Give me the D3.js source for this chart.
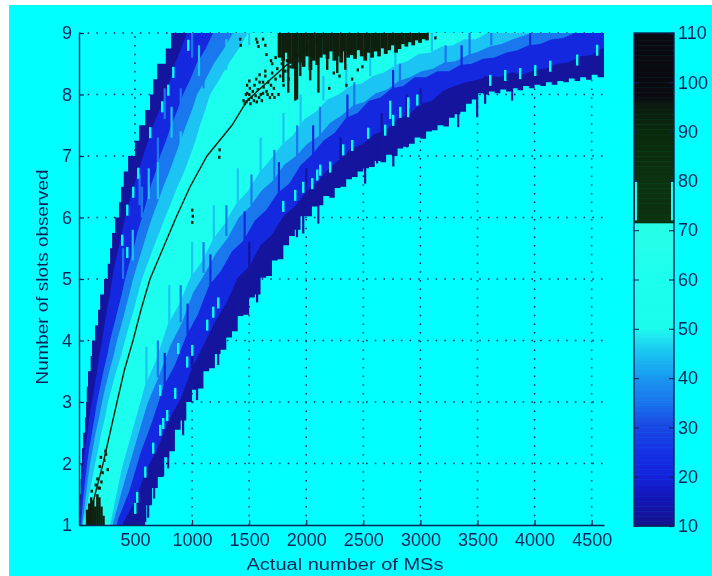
<!DOCTYPE html>
<html><head><meta charset="utf-8">
<script src="https://cdn.jsdelivr.net/npm/d3@7"></script>
<style>html,body{margin:0;padding:0;background:#fff;overflow:hidden}svg{display:block}text{font-family:"Liberation Sans",Arial,sans-serif}</style>
</head><body><svg id="c" width="712" height="576"></svg>
<script>
// ---- values (x = MSs, y = slots) ----
const xTicks=[500,1000,1500,2000,2500,3000,3500,4000,4500];
const yTicks=[1,2,3,4,5,6,7,8,9];
const cbTicks=[10,20,30,40,50,60,70,80,90,100,110];
const xTitle="Actual number of MSs", yTitle="Number of slots observed";

const levelsFine=[1,1.25,1.5,1.75,2,2.25,2.5,2.75,3,3.25,3.5,3.75,4,4.25,4.5,4.75,5,5.25,5.5,5.75,6,6.25,6.5,6.75,7,7.25,7.5,7.75,8,8.25,8.5,8.75,9];
const leftNavy=[10,14,19,24,28,36,46,62,72,78,89,112,124,150,177,195,229,262,282,300,326,360,378,402,440,500,536,590,632,660,694,770,816];
const leftBlue=[19,24,30,38,46,62,84,100,124,144,168,186,212,232,255,280,300,325,356,384,413,450,488,530,571,615,660,715,764,810,850,905,956];
const leftAzure=[28,38,50,66,81,100,124,146,168,196,224,256,282,316,350,384,413,450,490,520,562,600,636,682,720,772,818,872,921,985,1040,1120,1184];
const leftLight=[37,55,72,88,107,132,156,186,212,242,276,312,343,380,416,450,483,524,566,606,650,700,748,802,851,900,948,1000,1044,1120,1190,1280,1359];
const leftAqua=[46,72,98,126,151,180,206,238,264,300,336,378,413,450,490,524,562,610,660,712,764,820,872,932,983,1030,1070,1116,1158,1240,1320,1410,1490];

const rightNavy=[[589,1],[600,1.05],[650,1.32],[700,1.6],[750,1.78],[800,2.1],[850,2.2],[900,2.55],[950,2.7],[1000,3.0],[1050,3.2],[1100,3.22],[1150,3.5],[1200,3.55],[1250,3.78],[1300,3.85],[1350,4.05],[1400,4.15],[1450,4.4],[1500,4.42],[1550,4.7],[1600,4.75],[1650,5.02],[1700,5.05],[1750,5.3],[1800,5.32],[1850,5.55],[1900,5.7],[1950,5.8],[2000,6.02],[2050,6.02],[2100,6.18],[2150,6.2],[2200,6.35],[2250,6.32],[2300,6.48],[2350,6.5],[2400,6.62],[2450,6.66],[2500,6.75],[2550,6.8],[2600,6.82],[2650,6.92],[2700,6.9],[2750,7.02],[2800,7.0],[2850,7.12],[2900,7.15],[2950,7.2],[3000,7.3],[3050,7.28],[3100,7.4],[3150,7.42],[3200,7.5],[3250,7.48],[3300,7.62],[3350,7.68],[3400,7.72],[3450,7.85],[3500,7.92],[3550,8.02],[3600,8.0],[3650,8.05],[3700,8.02],[3750,8.08],[3800,8.05],[3850,8.1],[3900,8.07],[3950,8.14],[4000,8.1],[4050,8.16],[4100,8.14],[4150,8.2],[4200,8.16],[4250,8.22],[4300,8.2],[4350,8.26],[4400,8.22],[4450,8.28],[4500,8.24],[4550,8.32],[4608,8.28]];
const rightBlue=[[396,1],[400,1.05],[500,1.38],[600,1.9],[700,2.25],[800,2.72],[900,3.05],[1000,3.55],[1100,3.92],[1200,4.3],[1300,4.6],[1400,5.02],[1500,5.2],[1600,5.55],[1700,5.72],[1800,6.02],[1900,6.18],[2000,6.42],[2100,6.58],[2200,6.8],[2300,6.95],[2400,7.12],[2500,7.2],[2600,7.36],[2700,7.42],[2800,7.6],[2900,7.68],[3000,7.84],[3100,7.9],[3200,8.06],[3300,8.14],[3400,8.2],[3500,8.24],[3600,8.3],[3700,8.28],[3800,8.36],[3900,8.32],[4000,8.4],[4100,8.42],[4200,8.5],[4300,8.52],[4400,8.62],[4500,8.64],[4600,8.76],[4700,8.8]];
const rightAzure=[[343,1],[350,1.08],[450,1.55],[550,2.18],[650,2.68],[750,3.25],[850,3.6],[950,4.08],[1050,4.42],[1150,4.9],[1250,5.12],[1350,5.45],[1450,5.62],[1550,5.95],[1650,6.12],[1750,6.4],[1850,6.55],[1950,6.85],[2050,7.02],[2150,7.25],[2250,7.38],[2350,7.62],[2450,7.7],[2550,7.9],[2650,7.95],[2750,8.1],[2850,8.14],[2950,8.28],[3050,8.28],[3150,8.38],[3250,8.38],[3350,8.48],[3450,8.5],[3550,8.58],[3650,8.6],[3750,8.68],[3850,8.72],[3950,8.8],[4050,8.82],[4150,8.9],[4250,8.92],[4350,9],[4450,9.02],[4800,9.2]];
const rightLight=[[308,1],[310,1.04],[410,1.72],[510,2.35],[610,2.98],[710,3.42],[810,3.92],[910,4.28],[1010,4.78],[1110,5.08],[1210,5.42],[1310,5.66],[1410,6.0],[1510,6.18],[1610,6.44],[1710,6.6],[1810,6.86],[1910,7.0],[2010,7.2],[2110,7.32],[2210,7.54],[2310,7.66],[2410,7.82],[2510,7.88],[2610,8.02],[2710,8.08],[2810,8.22],[2910,8.28],[3010,8.38],[3110,8.42],[3210,8.52],[3310,8.54],[3410,8.64],[3510,8.7],[3610,8.78],[3710,8.82],[3810,8.9],[3910,8.96],[4010,9.02],[4300,9.2]];
const rightAqua=[[282,1],[285,1.02],[385,1.92],[485,2.58],[585,3.25],[685,3.68],[785,4.25],[885,4.58],[985,5.02],[1085,5.28],[1185,5.65],[1285,5.9],[1385,6.22],[1485,6.42],[1585,6.72],[1685,6.94],[1785,7.18],[1885,7.34],[1985,7.6],[2085,7.72],[2185,7.92],[2285,8.0],[2385,8.14],[2485,8.18],[2585,8.3],[2685,8.36],[2785,8.48],[2885,8.54],[2985,8.66],[3085,8.68],[3185,8.78],[3285,8.8],[3385,8.9],[3485,8.9],[3585,9.0],[3900,9.2]];

const ridge=[[90,1],[151,1.5],[221,2],[282,2.5],[343,3],[405,3.5],[483,4],[553,4.5],[632,5],[746,5.5],[860,6],[983,6.5],[1131,7],[1350,7.5],[1482,7.9],[1600,8.1],[1750,8.35],[1900,8.6],[2182,9]];

// thin vertical streaks: x, from, to, index into bandColors
const streaks=[[600,3.2,3.9,3],[800,4.2,4.9,3],[1000,5.0,5.6,3],[1190,5.6,6.2,3],[1400,6.2,6.8,3],[1600,6.7,7.3,3],[1800,7.2,7.7,3],[1950,7.5,8.0,3],[2150,7.9,8.3,3],[2350,8.1,8.5,3],[2560,8.3,8.7,3],[2780,8.45,8.85,3],[3100,8.7,9,3],
[700,3.4,4.0,2],[900,4.3,4.9,2],[1100,5.1,5.6,2],[1300,5.7,6.2,2],[1520,6.2,6.7,2],[1720,6.6,7.1,2],[1920,7.0,7.5,2],[2120,7.3,7.8,2],[2420,7.8,8.2,2],[2820,8.2,8.5,2],[3220,8.5,8.8,2],[3620,8.8,9,2],[3430,8.6,9,2],
[760,3.25,3.8,1],[960,4.1,4.6,1],[1160,4.9,5.4,1],[1460,5.6,6.1,1],[1760,6.4,6.9,1],[2060,7.0,7.5,1],[2360,7.6,8.0,1],[2760,8.1,8.4,1],[3360,8.45,8.8,1],[3960,8.8,9,1],
[1000,3.55,3.95,0],[1500,5.2,5.6,0],[2000,6.4,6.8,0],[2300,6.95,7.3,0],[2660,7.4,7.7,0],[2880,7.65,8.0,0],[3000,7.85,8.1,0],
[2892,7.63,7.95,4],[2735,7.6,7.9,4],
[560,6.0,6.5,2],[700,6.7,7.3,2],[900,7.5,8.1,2],[1100,8.1,8.6,2],[700,6.3,6.9,3],[900,6.9,7.4,3],[1300,8.4,8.9,3],[1500,8.8,9,3],[480,5.3,5.8,3],[620,6.3,6.8,3],[820,7.3,7.8,3],[1060,8.3,8.8,3],[395,5.0,5.5,2],[540,6.2,6.7,2],[760,7.6,8.1,2],[1000,8.6,9,2]];

const navySpikes=[[615,1.12],[667,1.43],[746,1.8],[790,1.92],[921,2.46],[1043,3.03],[1228,3.6],[1359,4.17],[1569,4.62],[1918,5.68],[1973,5.74],[2105,5.9],[2515,6.55],[2620,6.88],[2762,6.83],[2882,7.14],[3330,7.47],[3496,7.63],[3566,7.85],[3802,7.9]];
const cyanSpecks=[[1797,6.18],[1902,6.36],[1972,6.49],[2051,6.55],[2095,6.69],[2121,6.77],[2208,6.82],[2322,7.1],[2401,7.17],[2541,7.37],[2690,7.42],[2760,7.58],[2822,7.71],[2892,7.86],[2971,7.91],[3610,8.23],[3741,8.31],[3872,8.34],[4004,8.39],[4135,8.46],[4371,8.56],[4546,8.72],[781,2.78],[851,3.14],[956,3.65],[1000,3.84],[1131,4.25],[1184,4.46],[1228,4.61],[720,3.19],[877,3.87],[501,1.27],[518,1.45],[589,1.86],[658,2.25],[720,2.54],[746,2.65],[965,8.8],[834,8.36],[790,8.07],[737,7.8],[632,7.38],[527,6.72],[483,6.41],[431,6.12],[387,5.63],[431,5.43]];

const topDarkStart=1750;
const topDarkBottom=[8.6,8.55,8.68,8.5,8.42,8.6,8.52,8.45,8.62,8.4,8.55,8.48,8.6,8.65,8.58,8.7,8.55,8.62,8.52,8.7,8.6,8.64,8.58,8.72,8.62,8.55,8.68,8.6,8.7,8.62,8.75,8.66,8.72,8.8,8.68,8.74,8.82,8.78,8.85,8.8,8.88,8.84,8.9,8.88];
const darkSpikes=[[1841,8.03],[1902,7.9],[1918,7.92],[1797,8.2],[2033,8.23],[2105,8.03],[2182,8.4],[2270,8.35],[2340,8.4],[1946,8.3]];
const bottomBlobStart=70;
const bottomBlobTop=[1.25,1.35,1.45,1.4,1.3,1.5,1.45,1.3,1.15];
const darkSpecks=[[1460,7.85],[1470,8.0],[1480,8.02],[1495,7.92],[1505,8.1],[1520,7.95],[1530,8.05],[1545,8.15],[1555,7.98],[1565,7.88],[1575,8.08],[1590,8.2],[1600,8.0],[1610,7.9],[1625,8.12],[1640,8.3],[1650,8.05],[1665,8.2],[1680,7.95],[1690,8.15],[1700,8.35],[1715,8.1],[1730,8.25],[1745,8.42],[1755,8.0],[1770,8.3],[1785,8.5],[1800,8.15],[1815,8.38],[1830,8.55],[1845,8.25],[1860,8.45],[1500,8.0],[1510,7.85],[1540,7.9],[1585,7.95],[1620,8.02],[1660,8.0],[1700,8.0],[1720,7.95],[1450,7.9],[1475,7.88],[1620,8.2],[1560,8.25],[1590,8.32],[1640,8.38],[1700,8.5],[1500,8.22],[1480,8.15],[1730,8.6],[1690,8.55],[1650,8.65],[1620,8.9],[1640,8.8],[1420,8.9],[1425,8.8],[1560,8.9],[1570,8.85],[1580,8.78],[2890,8.9],[2950,8.92],[3000,8.88],[3010,8.94],[3130,8.92],[2200,8.1],[2240,8.35],[2290,8.3],[2350,8.15],[2400,8.25],[2450,8.4],[2490,8.45],[1000,5.92],[1005,6.02],[1000,6.12],[1237,6.98],[1240,7.1],[170,1.75],[190,1.95],[200,2.1],[215,1.85],[230,2.05],[245,2.15],[180,1.6],[260,1.9],[155,1.65],[120,1.55],[190,1.6],[205,1.7],[240,2.2]];

const cbValues=[10,15,20,25,30,35,40,45,48,50,60,71,71.5,80,90,95,97,110];
const cbColors=["#14148c","#1414b4","#1422dc","#1632e4","#1a48e4","#1a74ec","#1a98f0","#1ac4f2","#1ee4f0","#1cfcec","#1cffee","#28ffe6","#0c3210","#0c3210","#0a2a0c","#0c1c10","#0a0a10","#0a0a10"];
const cbInset=[72,80];
const bandColors=["#14149c","#1428e0","#1a78ee","#1cc4f4","#1cffee"];
const cyan="#00ffff", ink="#0c2458", dark="#10200f";

// ---- layout ----
const svg=d3.select("#c");
const L=79,R=604,T=33,B=525;
const x=d3.scaleLinear().domain([10,4608]).range([L,R]);
const y=d3.scaleLinear().domain([1,9]).range([B,T]);
const cbY=d3.scaleLinear().domain([10,110]).range([526,33]);
const cbL=634,cbR=674;
const YT=9.5;

svg.append("rect").attr("x",9).attr("y",5).attr("width",703).attr("height",571).attr("fill",cyan);
svg.append("defs").append("clipPath").attr("id","plot").append("rect").attr("x",L).attr("y",T).attr("width",R-L).attr("height",B-T);
const root=svg.append("g").style("filter","blur(0.5px)");

// grid (drawn below the heat map, as in the picture)
const grid=root.append("g").attr("stroke",ink).attr("stroke-width",1.5).attr("stroke-dasharray","1.5 7.2");
grid.selectAll(".gx").data(xTicks).join("line").attr("x1",d=>x(d)).attr("x2",d=>x(d)).attr("y1",B).attr("y2",T);
grid.selectAll(".gy").data(yTicks.slice(1)).join("line").attr("x1",L).attr("x2",R).attr("y1",d=>y(d)).attr("y2",d=>y(d));

const heat=root.append("g").attr("clip-path","url(#plot)");
const path=(curve)=>d3.line().x(d=>x(d[0])).y(d=>y(d[1])).curve(curve);
function band(left,right,color,curve){
  const pts=left.map((v,i)=>[v,levelsFine[i]]);
  pts.push([left[left.length-1],YT]);
  pts.push([right[right.length-1][0],YT]);
  right.slice().reverse().forEach(p=>pts.push(p));
  heat.append("path").attr("d",path(curve)(pts)+"Z").attr("fill",color);
}
band(leftNavy,rightNavy,bandColors[0],d3.curveStepAfter);
band(leftBlue,rightBlue,bandColors[1],d3.curveLinear);
band(leftAzure,rightAzure,bandColors[2],d3.curveLinear);
band(leftLight,rightLight,bandColors[3],d3.curveLinear);
band(leftAqua,rightAqua,bandColors[4],d3.curveLinear);

heat.selectAll(".st").data(streaks).join("rect").attr("x",d=>x(d[0])-1).attr("width",2.2)
  .attr("y",d=>y(d[2])).attr("height",d=>y(d[1])-y(d[2])).attr("fill",d=>bandColors[d[3]]);
heat.selectAll(".sp").data(navySpikes).join("rect").attr("x",d=>x(d[0])-1).attr("width",2.2)
  .attr("y",d=>y(d[1]+0.45)).attr("height",d=>y(d[1])-y(d[1]+0.45)).attr("fill",bandColors[0]);
heat.selectAll(".sc").data(cyanSpecks).join("rect").attr("x",d=>x(d[0])-1).attr("width",2.4)
  .attr("y",d=>y(d[1]+0.09)).attr("height",d=>y(d[1]-0.09)-y(d[1]+0.09)).attr("fill",cyan);

// high-count cells
heat.append("g").selectAll("rect").data(topDarkBottom).join("rect")
  .attr("x",(d,i)=>x(topDarkStart+i*30)).attr("width",x(30)-x(0)+0.4)
  .attr("y",T).attr("height",d=>y(d)-T).attr("fill",dark);
heat.append("g").selectAll("rect").data(darkSpikes).join("rect")
  .attr("x",d=>x(d[0])-1).attr("width",2.4).attr("y",T).attr("height",d=>y(d[1])-T).attr("fill",dark);
heat.append("g").selectAll("rect").data(bottomBlobTop).join("rect")
  .attr("x",(d,i)=>x(bottomBlobStart+i*18)).attr("width",x(18)-x(0)+0.4)
  .attr("y",d=>y(d)).attr("height",d=>B-y(d)).attr("fill",dark);
heat.append("g").selectAll("rect").data(darkSpecks).join("rect")
  .attr("x",d=>x(d[0])-1).attr("y",d=>y(d[1])-1.5).attr("width",2.4).attr("height",3).attr("fill",dark);
heat.append("path").attr("d",path(d3.curveLinear)(ridge)).attr("fill","none").attr("stroke",dark).attr("stroke-width",1.4);

// axes
function styleAxis(g,size){
  g.selectAll("path.domain").attr("stroke",ink).attr("stroke-width",1.4);
  g.selectAll(".tick line").attr("stroke",ink).attr("stroke-width",1.2);
  g.selectAll("text").attr("fill",ink).style("font-size",size+"px").style("font-family",'"Liberation Sans",Arial,sans-serif');
}
const ax=root.append("g").attr("transform",`translate(0,${B})`)
  .call(d3.axisBottom(x).tickValues(xTicks).tickFormat(d3.format("d")).tickSizeInner(-5).tickSizeOuter(0).tickPadding(8));
styleAxis(ax,18);
const ay=root.append("g").attr("transform",`translate(${L},0)`)
  .call(d3.axisLeft(y).tickValues(yTicks).tickFormat(d3.format("d")).tickSizeInner(-5).tickSizeOuter(0).tickPadding(7));
styleAxis(ay,18);
root.append("text").attr("x",345).attr("y",570).attr("text-anchor","middle").attr("fill",ink)
  .attr("textLength",197).attr("lengthAdjust","spacingAndGlyphs").style("font-size","16px").text(xTitle);
root.append("text").attr("transform","translate(48,277) rotate(-90)").attr("text-anchor","middle").attr("fill",ink)
  .attr("textLength",215).attr("lengthAdjust","spacingAndGlyphs").style("font-size","16px").text(yTitle);

// colour bar
const cbColor=d3.scaleLinear().domain(cbValues).range(cbColors);
const cbStep=0.5;
root.append("g").selectAll("rect").data(d3.range(10,110,cbStep)).join("rect")
  .attr("x",cbL).attr("width",cbR-cbL).attr("y",d=>cbY(d+cbStep)).attr("height",d=>cbY(d)-cbY(d+cbStep)+0.5)
  .attr("fill",d=>cbColor(d));
root.append("g").selectAll("rect").data([cbL+1,cbR-3]).join("rect")
  .attr("x",d=>d).attr("width",2).attr("y",cbY(cbInset[1])).attr("height",cbY(cbInset[0])-cbY(cbInset[1])).attr("fill",bandColors[4]);
root.append("rect").attr("x",cbL).attr("y",33).attr("width",cbR-cbL).attr("height",493).attr("fill","none").attr("stroke",ink).attr("stroke-width",1.4);
const cb=root.append("g").attr("transform",`translate(${cbR},0)`)
  .call(d3.axisRight(cbY).tickValues(cbTicks).tickFormat(d3.format("d")).tickSizeInner(-5).tickSizeOuter(0).tickPadding(9));
styleAxis(cb,18);
cb.selectAll("text").attr("x",4);
cb.selectAll("path.domain").remove();
root.append("g").attr("transform",`translate(${cbL},0)`)
  .call(d3.axisRight(cbY).tickValues(cbTicks).tickFormat("").tickSizeInner(5).tickSizeOuter(0)).call(g=>{g.select("path.domain").remove();g.selectAll(".tick line").attr("stroke",ink);});
</script></body></html>
